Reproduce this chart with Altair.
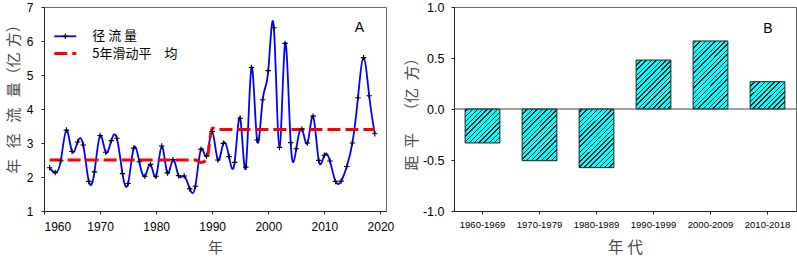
import altair as alt
import pandas as pd

# ---------------- data ----------------
years = list(range(1961, 2020))
runoff = [2.27, 2.13, 2.48, 3.38, 2.75, 3.03, 2.94, 1.87, 2.15, 3.22,
          2.73, 3.07, 3.14, 2.10, 1.81, 2.85, 2.45, 2.02, 2.37, 2.02,
          2.91, 2.12, 2.51, 2.04, 2.03, 1.65, 1.73, 2.82, 2.62, 3.34,
          2.50, 2.99, 2.60, 2.43, 3.73, 2.29, 5.22, 3.09, 4.27, 5.13,
          6.39, 2.87, 5.93, 3.01, 2.83, 3.41, 3.00, 3.79, 2.49, 2.64,
          2.47, 1.87, 1.88, 2.31, 3.00, 4.33, 5.51, 4.39, 3.27]

ma_years = [1961, 1987, 1988, 1989, 1990, 1991, 2019]
ma_vals = [2.50, 2.50, 2.43, 2.50, 3.44, 3.40, 3.40]

decades = ["1960-1969", "1970-1979", "1980-1989", "1990-1999", "2000-2009", "2010-2018"]
anomaly = [-0.333, -0.507, -0.575, 0.48, 0.667, 0.268]

legend_labels = ["径 流 量", "5年滑动平\u2003均"]
x_ticks_a = [1960, 1970, 1980, 1990, 2000, 2010, 2020]
y_ticks_a = [1, 2, 3, 4, 5, 6, 7]
y_ticks_b = [-1.0, -0.5, 0.0, 0.5, 1.0]

# ---------------- style ----------------
W, H = 342, 204
LABEL_FONT = "Liberation Sans"
CJK = "Noto Sans CJK SC"
TITLE_COLOR = "#4a4a4a"
BLUE = "#0000FF"
RED = "#FF0000"
CYAN = "#00FFFF"
PLUS = "M-1,0L1,0M0,-1L0,1"

df_run = pd.DataFrame({"year": years, "runoff": runoff})
df_ma = pd.DataFrame({"year": ma_years, "ma": ma_vals})
df_b = pd.DataFrame({"decade": decades, "anomaly": anomaly})
one = pd.DataFrame({"k": [0]})

xs_a = alt.Scale(domain=[1960, 2021], nice=False, zero=False)
ys_a = alt.Scale(domain=[1, 7], nice=False, zero=False)

x_axis_a = alt.Axis(values=x_ticks_a, format="d", title="年", grid=False,
                    tickSize=3, labelPadding=7, labelFontSize=12, labelOverlap=False,
                    minExtent=23, maxExtent=23, titlePadding=6.5,
                    titleFontSize=15)
y_axis_a = alt.Axis(values=y_ticks_a, format="d",
                    title="年\u2002\u2009径\u2002\u2009流\u2002\u2009量（亿\u2004方）",
                    grid=False, tickSize=3, labelPadding=8, labelFontSize=12, labelOverlap=False,
                    titleX=-22.5, titleY=88, titleAngle=-90, titleAlign="center",
                    titleBaseline="bottom", titleFontSize=15)

XA = lambda f: alt.X(f, scale=xs_a, axis=x_axis_a)
YA = lambda f: alt.Y(f, scale=ys_a, axis=y_axis_a)

line = alt.Chart(df_run).mark_line(color=BLUE, strokeWidth=1.8, interpolate="natural").encode(
    x=XA("year:Q"), y=YA("runoff:Q"))
pts = alt.Chart(df_run).mark_point(shape=PLUS, size=30, filled=False, stroke="black",
                                    strokeWidth=1.1, opacity=1).encode(
    x=XA("year:Q"), y=YA("runoff:Q"))
ma = alt.Chart(df_ma).mark_line(color=RED, strokeWidth=3, strokeDash=[13, 5],
                                interpolate="monotone").encode(
    x=XA("year:Q"), y=YA("ma:Q"))

# legend (decoration)
leg_blue = alt.Chart(one).mark_rule(color=BLUE, strokeWidth=1.8).encode(
    x=alt.value(10.3), x2=alt.value(32.3), y=alt.value(29.3))
leg_plus = alt.Chart(one).mark_point(shape=PLUS, size=30, filled=False, stroke="black",
                                     strokeWidth=1.1, opacity=1).encode(
    x=alt.value(21.3), y=alt.value(29.3))
leg_red = alt.Chart(one).mark_rule(color=RED, strokeWidth=3, strokeDash=[13, 5]).encode(
    x=alt.value(10.3), x2=alt.value(32.3), y=alt.value(46.6))
leg_t1 = alt.Chart(one).mark_text(align="left", baseline="middle", font=CJK, fontSize=13,
                                  color="black").encode(
    x=alt.value(48.3), y=alt.value(29.3), text=alt.value(legend_labels[0]))
leg_t2 = alt.Chart(one).mark_text(align="left", baseline="middle", font=CJK, fontSize=13,
                                  color="black").encode(
    x=alt.value(48.3), y=alt.value(46.6), text=alt.value(legend_labels[1]))
tag_a = alt.Chart(one).mark_text(align="center", baseline="middle", font=LABEL_FONT,
                                 fontSize=14, color="black").encode(
    x=alt.value(315.3), y=alt.value(20.5), text=alt.value("A"))

panel_a = alt.layer(line, ma, pts, leg_blue, leg_plus, leg_red, leg_t1, leg_t2, tag_a).properties(
    width=W, height=H)

# ---------------- panel B ----------------
P_IN, P_OUT = 0.39, 0.195
STEP = W / len(decades)
band_w = STEP * (1 - P_IN)
PX_PER_UNIT = H / 2.0
HATCH_P = 5.0


def hatch(i, v, lw=1.3, bg=CYAN, fg="#1e1e1e"):
    # diagonal "/" stripes in a linear gradient (bbox units), phase aligned to a global grid
    w = band_w
    h = abs(v) * PX_PER_UNIT
    x0 = i * STEP + P_OUT * STEP
    y0 = (1 - max(v, 0)) * PX_PER_UNIT
    total = w + h
    a = total / (w * w + h * h)
    stops = [{"offset": 0, "color": bg}]
    k = (-(x0 + y0)) % HATCH_P
    while k < total:
        o1 = round(k / total, 5)
        o2 = round(min((k + lw) / total, 1.0), 5)
        stops += [{"offset": o1, "color": bg}, {"offset": o1, "color": fg},
                  {"offset": o2, "color": fg}, {"offset": o2, "color": bg}]
        k += HATCH_P
    stops.append({"offset": 1, "color": bg})
    return {"gradient": "linear", "x1": 0, "y1": 0,
            "x2": round(a * w, 5), "y2": round(a * h, 5), "stops": stops}


xs_b = alt.Scale(domain=decades, paddingInner=P_IN, paddingOuter=P_OUT)
ys_b = alt.Scale(domain=[-1, 1], nice=False)
x_axis_b = alt.Axis(title="年\u2005代", labelAngle=0, tickSize=3, labelPadding=5.5,
                    labelFontSize=9.5, labelOverlap=False, minExtent=23, maxExtent=23,
                    titlePadding=6, titleFontSize=15.5, grid=False)
y_axis_b = alt.Axis(values=y_ticks_b, title="距\u2002平\u2003（亿\u2002方）",
                    labelExpr="datum.value < 0 ? '-' + format(-datum.value, '.1f') : format(datum.value, '.1f')",
                    tickSize=3, labelPadding=7, labelFontSize=12.5, labelOverlap=False,
                    titleX=-34.8, titleY=103, titleAngle=-90, titleAlign="center",
                    titleBaseline="bottom", titleFontSize=15, grid=False)

bar_layers = []
for i, d in enumerate(decades):
    bar_layers.append(
        alt.Chart(df_b).transform_filter(alt.datum.decade == d)
        .mark_bar(fill=hatch(i, anomaly[i]), stroke="#222222", strokeWidth=1)
        .encode(x=alt.X("decade:N", sort=decades, scale=xs_b, axis=x_axis_b),
                y=alt.Y("anomaly:Q", scale=ys_b, axis=y_axis_b))
    )

zero = alt.Chart(one).mark_rule(color="#444444", strokeWidth=1).encode(
    y=alt.YDatum(0, scale=ys_b, axis=y_axis_b))
tag_b = alt.Chart(one).mark_text(align="center", baseline="middle", font=LABEL_FONT,
                                 fontSize=14, color="black").encode(
    x=alt.value(314), y=alt.value(22), text=alt.value("B"))

panel_b = alt.layer(*bar_layers, zero, tag_b).properties(width=W, height=H)

chart = alt.hconcat(panel_a, panel_b, spacing=68, bounds="flush").properties(
    padding={"left": 6, "top": 0, "right": 0, "bottom": 0}
).configure_view(stroke="#666666", strokeWidth=1).configure_axis(
    labelFont=LABEL_FONT, labelColor="black", tickColor="#222222", domainColor="#222222",
    titleFont=CJK, titleColor=TITLE_COLOR, titleFontWeight="normal"
)

chart.save("out.html", embed_options={"renderer": "svg", "actions": False})
